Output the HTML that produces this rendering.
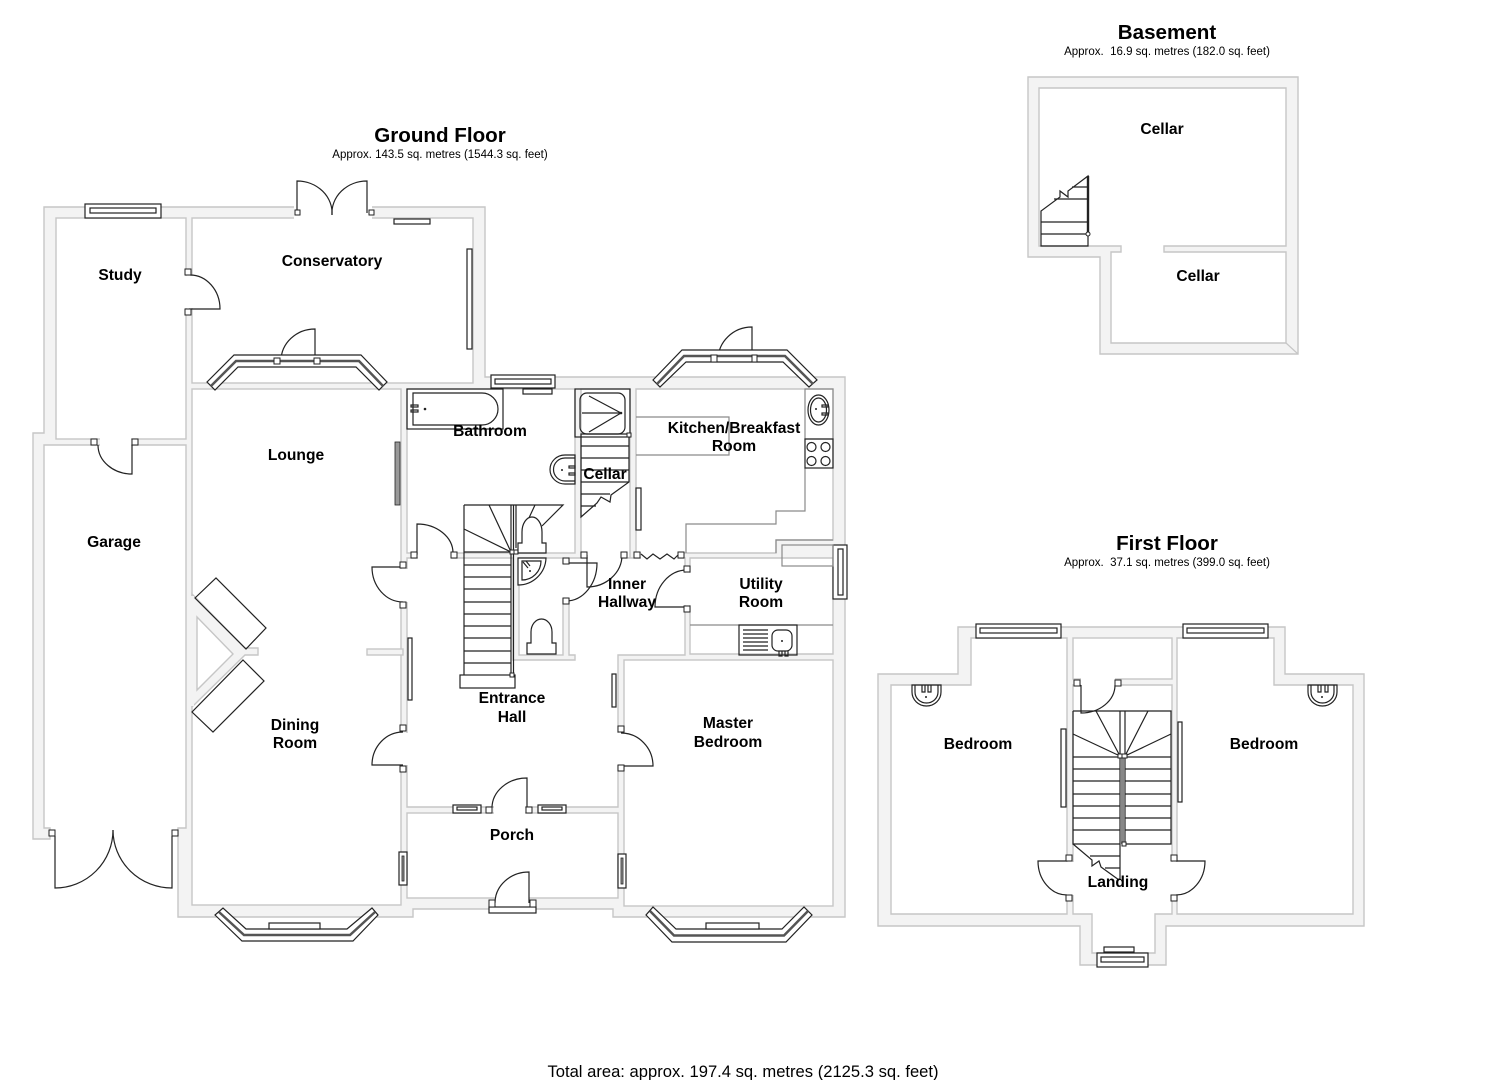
<!DOCTYPE html>
<html><head><meta charset="utf-8"><style>
html,body{margin:0;padding:0;background:#fff}
svg{display:block}
.w{fill:#f3f3f3;stroke:#c6c6c6;stroke-width:1.4}
.r{fill:#fff;stroke:#c6c6c6;stroke-width:1.4}
.g{fill:#fff;stroke:none}
.o{fill:none;stroke:#222;stroke-width:1.2}
.f{fill:#fff;stroke:#222;stroke-width:1.2}
.u{fill:none;stroke:#8a8a8a;stroke-width:1.2}
.d{fill:#999;stroke:#222;stroke-width:.8}
.b{fill:#fff;stroke:#222;stroke-width:1}
.band{fill:none;stroke:#555;stroke-width:2.5}
text{font-family:"Liberation Sans",sans-serif;fill:#000;text-anchor:middle;white-space:pre}
.l{font-weight:bold;font-size:15.6px}
.h{font-weight:bold;font-size:20.6px}
.s{font-size:11.5px}
</style></head><body>
<svg width="1485" height="1080" viewBox="0 0 1485 1080" xmlns="http://www.w3.org/2000/svg">
<rect width="1485" height="1080" fill="#fff"/>

<!-- GROUND FLOOR walls -->
<polygon class="w" points="44,207 485,207 485,377 845,377 845,917 613,917 613,909 413,909 413,917 178,917 178,828 186,828 186,445 44,445 44,828 50,828 50,839 33,839 33,433 44,433"/>
<rect class="r" x="56" y="218" width="130" height="221"/>
<rect class="r" x="192" y="218" width="281" height="165"/>
<rect class="r" x="192" y="389" width="209" height="516"/>
<rect class="r" x="407" y="389" width="168" height="164"/>
<rect class="r" x="581" y="389" width="49" height="169"/>
<polygon class="r" points="636,389 833,389 833,540 776,540 776,553 636,553"/>
<polygon class="r" points="690,558 833,558 833,654 690,654"/>
<polygon class="r" points="407,558 513,558 513,660 575,660 575,655 569,655 569,558 685,558 685,655 618,655 618,807 407,807"/>
<rect class="r" x="519" y="558" width="44" height="97"/>
<rect class="r" x="624" y="660" width="209" height="246"/>
<rect class="r" x="407" y="813" width="211" height="85"/>
<!-- chimney -->
<polygon class="w" points="192,594 245,648 258,648 258,655 245,655 192,707"/>
<polygon class="r" points="197,617 233,654 197,690"/>
<rect class="w" x="367" y="649" width="36" height="6"/>
<rect x="191" y="596" width="3" height="110" fill="#f3f3f3"/>
<!-- gaps -->
<rect class="g" x="294" y="206" width="78" height="13.5"/>
<rect class="g" x="185" y="276" width="8" height="32"/>
<rect class="g" x="100" y="438" width="31" height="8"/>
<rect class="g" x="400" y="569" width="8" height="33"/>
<rect class="g" x="400" y="733" width="8" height="32"/>
<rect class="g" x="418" y="552" width="33" height="7"/>
<rect class="g" x="617" y="733" width="8" height="32"/>
<rect class="g" x="494" y="806" width="31" height="8"/>
<rect class="g" x="495" y="896" width="34" height="14"/>
<rect class="g" x="562" y="564" width="8" height="34"/>
<rect class="g" x="588" y="552" width="33" height="7"/>
<rect class="g" x="641" y="552" width="37" height="7"/>
<rect class="g" x="684" y="573" width="7" height="32"/>

<!-- doors -->
<g class="o">
<path class="o" d="M297 213V181A35 32 0 0 1 332 215"/>
<path class="o" d="M367 213V181A35 32 0 0 0 332 215"/>
<path class="o" d="M190 275A30 34 0 0 1 220 309H189"/>
<path class="o" d="M315 361V329A34 32 0 0 0 281 361"/>
<path class="o" d="M132 445V474A34 29 0 0 1 98 445"/>
<path class="o" d="M55 836V888A58 58 0 0 0 113 830"/>
<path class="o" d="M172 836V888A59 58 0 0 1 113 830"/>
<path class="o" d="M403 567H372A31 35 0 0 0 403 602"/>
<path class="o" d="M403 765H372A31 33 0 0 1 403 732"/>
<path class="o" d="M621 733A32 33 0 0 1 653 766H621"/>
<path class="o" d="M527 808V778A35 30 0 0 0 492 808"/>
<path class="o" d="M529 903V872A34 31 0 0 0 495 903"/>
<path class="o" d="M417 555V524A36 29 0 0 1 453 553"/>
<path class="o" d="M566 563H597A31 38 0 0 1 566 601"/>
<path class="o" d="M587 555V587A35 32 0 0 0 622 555"/>
<path class="o" d="M687 570A32 37 0 0 0 655 607H687"/>
<path class="o" d="M752 360V327A34 33 0 0 0 718 360"/>
<path class="o" d="M641 554l6 5 6-5 7 5 7-5 7 5 4-4"/>
</g>

<!-- windows -->
<rect class="f" x="85" y="204" width="76" height="14"/>
<rect class="f" x="90" y="208" width="66" height="5"/>
<rect class="f" x="394" y="219" width="36" height="5"/>
<rect class="f" x="467" y="249" width="5" height="100"/>
<rect class="f" x="491" y="375" width="64" height="13"/>
<rect class="f" x="495" y="379" width="56" height="5"/>
<rect class="f" x="523" y="389" width="29" height="5"/>
<rect class="d" x="395" y="442" width="5" height="63"/>
<rect class="f" x="408" y="638" width="4" height="62"/>
<rect class="f" x="612" y="674" width="4" height="33"/>
<rect class="f" x="453" y="805" width="28" height="8"/><rect class="f" x="457" y="807" width="20" height="3"/>
<rect class="f" x="538" y="805" width="28" height="8"/><rect class="f" x="542" y="807" width="20" height="3"/>
<rect class="f" x="399" y="852" width="8" height="33"/><rect class="d" x="402" y="856" width="2" height="25"/>
<rect class="f" x="618" y="854" width="8" height="34"/><rect class="d" x="621" y="858" width="2" height="26"/>
<rect class="f" x="636" y="488" width="5" height="42"/>
<rect class="f" x="833" y="545" width="14" height="54"/><rect class="f" x="838" y="549" width="5" height="46"/>

<!-- bays -->
<polygon class="f" points="207,382 234,355 361,355 387,382 379,390 356,367 238,367 215,390"/>
<polyline class="band" points="211,386 236,361 359,361 383,386"/>
<polygon class="f" points="215,915 242,941 353,941 378,915 372,908 347,929 246,929 223,908"/>
<polyline class="band" points="219,912 244,935 350,935 375,912"/>
<rect class="f" x="269" y="923" width="51" height="6"/>
<polygon class="f" points="646,915 672,942 786,942 812,915 804,907 782,929 676,929 653,907"/>
<polyline class="band" points="650,911 674,935.500 784,935.500 808,911"/>
<rect class="f" x="706" y="923" width="53" height="6"/>
<polygon class="f" points="653,380 682,350 787,350 817,380 809,387 783,362 686,362 660,387"/>
<polyline class="band" points="657,384 684,356 785,356 813,384"/>
<rect class="b" x="711" y="355" width="6" height="7"/><rect class="b" x="752" y="355" width="5" height="7"/>
<rect class="f" x="489" y="907" width="47" height="6"/>
<rect class="b" x="489" y="900" width="6" height="7"/><rect class="b" x="530" y="900" width="6" height="7"/>

<!-- chimney boxes -->
<polygon class="o" points="195,598 216,578 266,628 246,649"/>
<polygon class="o" points="243,660 264,681 213,732 192,712"/>

<!-- bath -->
<rect class="o" x="407" y="389" width="96" height="40"/>
<path class="o" d="M413 393H482A16 16 0 0 1 482 425H413Z"/>
<circle cx="425" cy="409" r="1.3" fill="#222"/>
<rect class="o" x="411" y="405" width="7" height="2"/><rect class="o" x="411" y="410" width="7" height="2"/>
<!-- shower -->
<rect class="o" x="575" y="389" width="55" height="48"/>
<rect class="o" x="580" y="393" width="45" height="41" rx="7"/>
<path class="o" d="M621 413L589 396M621 413H582M621 413L589 432"/>
<circle cx="621" cy="413" r="1.3" fill="#222"/>
<!-- cellar stairs -->
<path class="o" d="M581 434H629V482L611 495 610 502 601 497 597 503 581 517ZM581 446H629M581 458H629M581 470H629M581 482H629M581 494H610M581 506H596"/>
<rect class="b" x="627" y="433" width="4" height="4"/>
<!-- basin bathroom -->
<path class="o" d="M575 455H565A15 14.500 0 0 0 565 484H575ZM575 458H565A11 11 0 0 0 565 481H575"/>
<rect class="o" x="569" y="466" width="6" height="2"/><rect class="o" x="569" y="473" width="6" height="2"/>
<circle cx="562" cy="470" r="1" fill="#222"/>
<!-- kitchen units -->
<path class="u" d="M636 417H729V455H636M805 468V511H776V524H686V553M776 553V540H833"/>
<rect class="u" x="782" y="545" width="51" height="21"/>
<rect class="u" x="805" y="389" width="28" height="50" />
<ellipse class="o" cx="818.500" cy="410" rx="10.500" ry="15"/><ellipse class="o" cx="818.500" cy="410" rx="8" ry="12"/>
<rect class="o" x="822" y="405" width="6" height="2"/><rect class="o" x="822" y="413" width="6" height="2"/>
<circle cx="816" cy="409" r="1" fill="#222"/>
<rect class="o" x="805" y="439" width="28" height="29"/>
<circle class="o" cx="811.500" cy="447" r="4.500"/><circle class="o" cx="825.500" cy="447" r="4.500"/>
<circle class="o" cx="811.500" cy="461" r="4.500"/><circle class="o" cx="825.500" cy="461" r="4.500"/>
<!-- utility units -->
<path class="u" d="M690 625H833"/>
<rect class="o" x="739" y="625" width="58" height="30"/>
<path class="o" d="M743 630H768M743 634H768M743 638H768M743 642H768M743 646H768M743 650H768"/>
<rect class="o" x="772" y="630" width="20" height="21" rx="6"/>
<circle cx="782" cy="641" r="1" fill="#222"/>
<path class="o" d="M779 651V656H782V651M785 651V656H788V651"/>

<!-- main stairs -->
<path class="o" d="M464 505H563L542 526M464 505V675M464 529L511 552M489 505L511 552M535 505L528 520M511 505V675M513.500 505V675M516 505V548M464 552H511M464 565H511M464 577H511M464 589H511M464 602H511M464 614H511M464 626H511M464 638H511M464 651H511M464 663H511"/>
<rect class="f" x="460" y="675" width="55" height="13"/>
<rect class="b" x="510" y="550" width="4" height="4"/><rect class="b" x="514" y="550" width="4" height="4"/>
<rect class="b" x="510" y="673" width="4" height="4"/>
<!-- toilets -->
<path class="f" d="M518 553V543H522V532A10 15 0 0 1 542 532V543H546V553Z"/>
<path class="f" d="M527 654V643H531V632A10.500 13 0 0 1 552 632V643H556V654Z"/>
<!-- corner basin -->
<path class="f" d="M518 558H546A28 28 0 0 1 518 585Z"/>
<path class="o" d="M522 561H541A19 19 0 0 1 522 580Z"/>
<path class="o" d="M523 562l5 6M526 561l4 5"/>
<circle cx="530" cy="571" r="1" fill="#222"/>

<!-- hinge boxes -->
<rect class="b" x="295" y="210" width="5" height="5"/><rect class="b" x="369" y="210" width="5" height="5"/>
<rect class="b" x="185" y="269" width="6" height="6"/><rect class="b" x="185" y="309" width="6" height="6"/>
<rect class="b" x="91" y="439" width="6" height="6"/><rect class="b" x="132" y="439" width="6" height="6"/>
<rect class="b" x="274" y="358" width="6" height="6"/><rect class="b" x="314" y="358" width="6" height="6"/>
<rect class="b" x="49" y="830" width="6" height="6"/><rect class="b" x="172" y="830" width="6" height="6"/>
<rect class="b" x="400" y="562" width="6" height="6"/><rect class="b" x="400" y="602" width="6" height="6"/>
<rect class="b" x="400" y="725" width="6" height="6"/><rect class="b" x="400" y="766" width="6" height="6"/>
<rect class="b" x="618" y="726" width="6" height="6"/><rect class="b" x="618" y="765" width="6" height="6"/>
<rect class="b" x="486" y="807" width="6" height="6"/><rect class="b" x="526" y="807" width="6" height="6"/>
<rect class="b" x="411" y="552" width="6" height="6"/><rect class="b" x="451" y="552" width="6" height="6"/>
<rect class="b" x="563" y="558" width="6" height="6"/><rect class="b" x="563" y="598" width="6" height="6"/>
<rect class="b" x="581" y="552" width="6" height="6"/><rect class="b" x="621" y="552" width="6" height="6"/>
<rect class="b" x="634" y="552" width="6" height="6"/><rect class="b" x="678" y="552" width="6" height="6"/>
<rect class="b" x="684" y="566" width="6" height="6"/><rect class="b" x="684" y="606" width="6" height="6"/>

<!-- BASEMENT -->
<polygon class="w" points="1028,77 1298,77 1298,354 1100,354 1100,257 1028,257"/>
<polygon class="r" points="1039,88 1286,88 1286,246 1164,246 1164,252 1286,252 1286,343 1111,343 1111,252 1121,252 1121,246 1039,246"/>
<line x1="1286" y1="343" x2="1298" y2="354" stroke="#c6c6c6" stroke-width="1.2"/>
<path class="o" d="M1041 246H1088V176L1068 191 1068 197 1060 191 1060 197 1041 211ZM1041 234H1088M1041 222H1088M1054 199H1088M1072 187H1088"/>
<line x1="1088" y1="176" x2="1088" y2="236" stroke="#222" stroke-width="2.4"/>
<circle cx="1088" cy="234" r="2" fill="#fff" stroke="#222"/>

<!-- FIRST FLOOR -->
<polygon class="w" points="878,674 958,674 958,627 1285,627 1285,674 1364,674 1364,926 1166,926 1166,965 1080,965 1080,926 878,926"/>
<polygon class="r" points="891,685 971,685 971,638 1067,638 1067,914 891,914"/>
<polygon class="r" points="1177,638 1274,638 1274,685 1353,685 1353,914 1177,914"/>
<rect class="r" x="1073" y="638" width="99" height="41"/>
<polygon class="r" points="1073,685 1172,685 1172,914 1155,914 1155,953 1092,953 1092,914 1073,914"/>
<rect class="g" x="1081" y="678" width="34" height="8"/>
<rect class="g" x="1066" y="862" width="8" height="33"/>
<rect class="g" x="1171" y="862" width="7" height="33"/>
<line x1="1073" y1="711" x2="1172" y2="711" stroke="#aaa" stroke-width="1"/>
<!-- stairs -->
<path class="o" d="M1073 711H1171V844H1125M1073 711V844H1120M1073 757H1120M1125 757H1171M1073 769H1120M1125 769H1171M1073 781H1120M1125 781H1171M1073 794H1120M1125 794H1171M1073 806H1120M1125 806H1171M1073 818H1120M1125 818H1171M1073 830H1120M1125 830H1171"/>
<path class="o" d="M1120 756L1096 711M1120 756L1073 734M1125 756L1148 711M1125 756L1171 734"/>
<path class="o" d="M1120 711V880M1125 711V844"/>
<rect x="1121" y="757" width="3" height="87" fill="#888"/>
<rect class="b" x="1118" y="754" width="5" height="4"/><rect class="b" x="1122" y="754" width="5" height="4"/>
<rect class="b" x="1122" y="842" width="4" height="4"/>
<path class="o" d="M1073 844L1092 860 1092 866 1099 861 1101 867 1119 880M1090 856H1120M1105 868H1120"/>
<!-- doors -->
<path class="o" d="M1081 685V713A34 28 0 0 0 1115 685"/>
<path class="o" d="M1067 861H1038A29 34 0 0 0 1067 895"/>
<path class="o" d="M1176 861H1205A29 34 0 0 1 1176 895"/>
<rect class="b" x="1074" y="680" width="6" height="6"/><rect class="b" x="1115" y="680" width="6" height="6"/>
<rect class="b" x="1066" y="855" width="6" height="6"/><rect class="b" x="1066" y="895" width="6" height="6"/>
<rect class="b" x="1171" y="855" width="6" height="6"/><rect class="b" x="1171" y="895" width="6" height="6"/>
<!-- windows -->
<rect class="f" x="1061" y="729" width="5" height="78"/>
<rect class="f" x="1178" y="722" width="4" height="80"/>
<rect class="f" x="976" y="624" width="85" height="14"/><rect class="f" x="980" y="628" width="77" height="5"/>
<rect class="f" x="1183" y="624" width="85" height="14"/><rect class="f" x="1187" y="628" width="77" height="5"/>
<rect class="f" x="1097" y="953" width="51" height="14"/><rect class="f" x="1101" y="957" width="43" height="5"/>
<rect class="f" x="1104" y="947" width="30" height="5"/>
<!-- basins -->
<path class="o" d="M912 685H941V692A14.500 14 0 0 1 912 692ZM915 685V692A11.500 11 0 0 0 938 692V685"/>
<path class="o" d="M922 685V692H925V685M928 685V692H931V685"/><circle cx="926" cy="697" r="1" fill="#222"/>
<path class="o" d="M1308 685H1337V692A14.500 14 0 0 1 1308 692ZM1311 685V692A11.500 11 0 0 0 1334 692V685"/>
<path class="o" d="M1318 685V692H1321V685M1325 685V692H1328V685"/><circle cx="1322" cy="697" r="1" fill="#222"/>

<!-- TEXT -->
<text class="h" x="440" y="142">Ground Floor</text>
<text class="s" x="440" y="158">Approx. 143.5 sq. metres (1544.3 sq. feet)</text>
<text class="h" x="1167" y="39">Basement</text>
<text class="s" x="1167" y="55">Approx.  16.9 sq. metres (182.0 sq. feet)</text>
<text class="h" x="1167" y="550">First Floor</text>
<text class="s" x="1167" y="566">Approx.  37.1 sq. metres (399.0 sq. feet)</text>
<text x="743" y="1077" font-size="16.600">Total area: approx. 197.4 sq. metres (2125.3 sq. feet)</text>

<text class="l" x="120" y="280">Study</text>
<text class="l" x="332" y="266">Conservatory</text>
<text class="l" x="296" y="460">Lounge</text>
<text class="l" x="114" y="547">Garage</text>
<text class="l" x="490" y="436">Bathroom</text>
<text class="l" x="605" y="479">Cellar</text>
<text class="l" x="734" y="433">Kitchen/Breakfast</text>
<text class="l" x="734" y="451">Room</text>
<text class="l" x="627" y="589">Inner</text>
<text class="l" x="627" y="607">Hallway</text>
<text class="l" x="761" y="589">Utility</text>
<text class="l" x="761" y="607">Room</text>
<text class="l" x="512" y="703">Entrance</text>
<text class="l" x="512" y="722">Hall</text>
<text class="l" x="295" y="730">Dining</text>
<text class="l" x="295" y="748">Room</text>
<text class="l" x="728" y="728">Master</text>
<text class="l" x="728" y="747">Bedroom</text>
<text class="l" x="512" y="840">Porch</text>
<text class="l" x="1162" y="134">Cellar</text>
<text class="l" x="1198" y="281">Cellar</text>
<text class="l" x="978" y="749">Bedroom</text>
<text class="l" x="1264" y="749">Bedroom</text>
<text class="l" x="1118" y="887">Landing</text>
</svg>
</body></html>
